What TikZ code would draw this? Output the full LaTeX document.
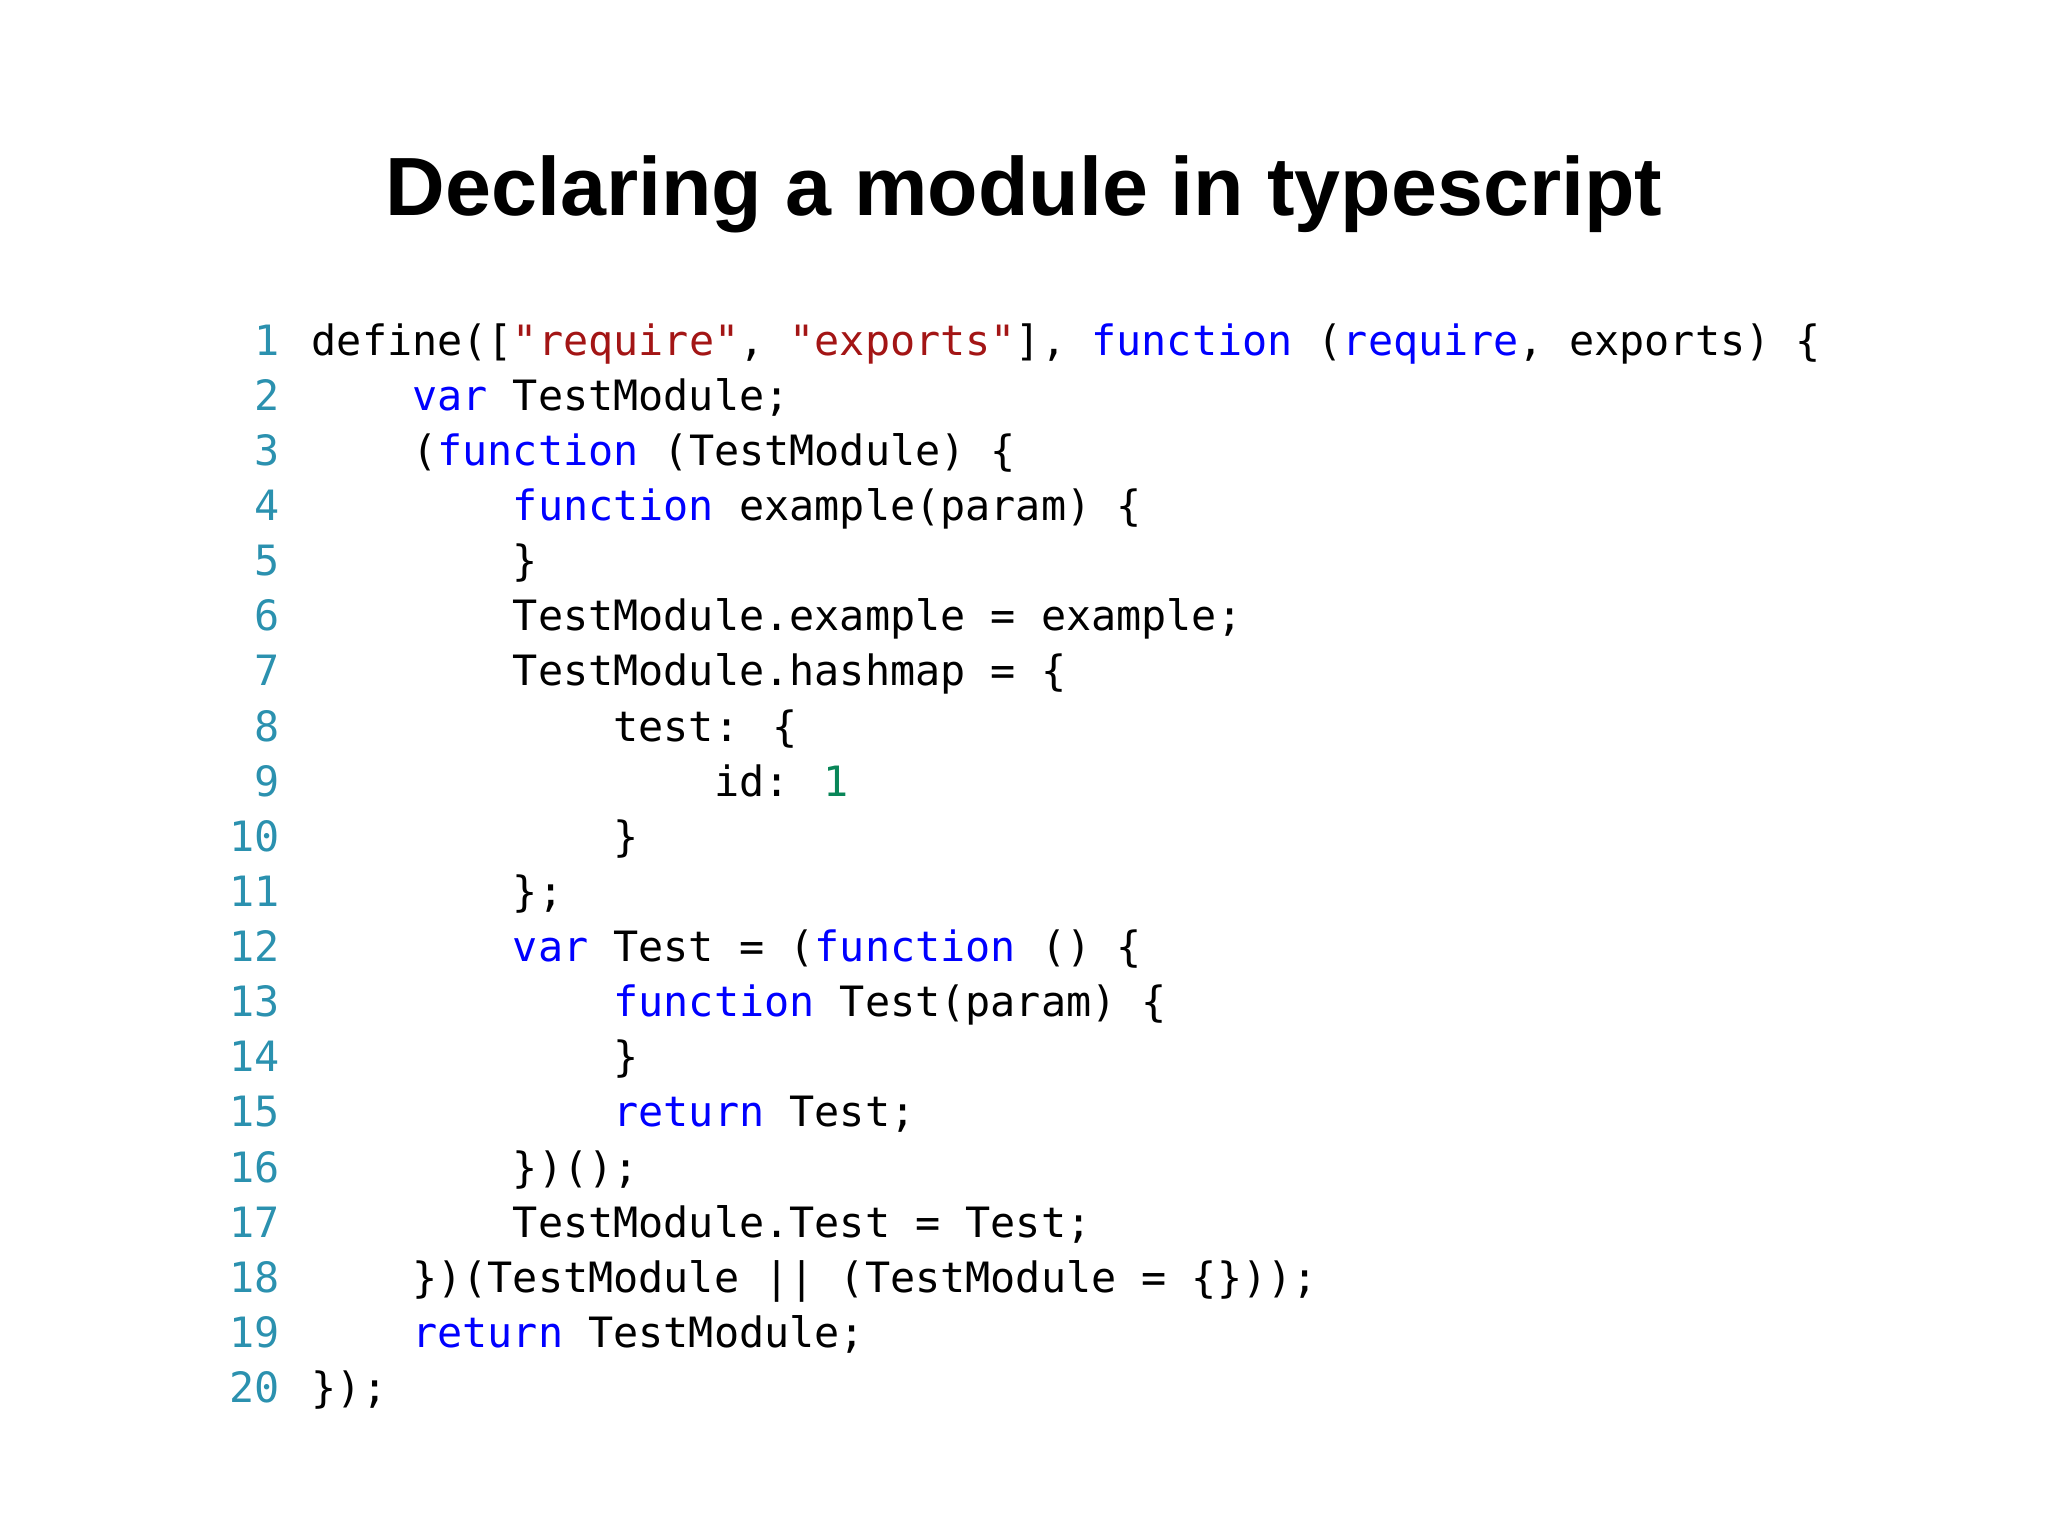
\documentclass[tikz,border=0pt]{standalone}
\usepackage{fontspec}
\setmainfont{Liberation Sans}
\newfontfamily\codefont{DejaVu Sans Mono}
\usetikzlibrary{positioning}
\definecolor{kwblue}{RGB}{0,0,255}
\definecolor{strred}{RGB}{163,21,21}
\definecolor{lnteal}{RGB}{43,145,175}
\definecolor{litgreen}{RGB}{9,134,88}
\newcommand{\kw}[1]{\textcolor{kwblue}{#1}}
\newcommand{\str}[1]{\textcolor{strred}{#1}}
\tikzset{
  codetext/.style={anchor=base west,inner sep=0pt,font=\codefont\fontsize{9.1pt}{10pt}\selectfont},
  linenum/.style={anchor=base east,inner sep=0pt,text=lnteal,font=\codefont\fontsize{9.1pt}{10pt}\selectfont},
  title/.style={font=\bfseries\fontsize{18pt}{22pt}\selectfont}
}
% one line of code: number, indent (characters), text
\newcommand{\codeline}[3]{%
  \node[linenum] (n#1) at (2.15,{9.05-0.422*(#1-1)}) {#1};
  \node[codetext] (c#1) at ({2.38+0.1925*#2},{9.05-0.422*(#1-1)}) {#3};}
\begin{document}
\begin{tikzpicture}
  \useasboundingbox (0,0) rectangle (15.68,11.77);
  \node[title] (heading) at (7.84,10.28) {Declaring a module in typescript};
  \codeline{1}{0}{define([\str{"require"}, \str{"exports"}], \kw{function} (\kw{require}, exports) \{}
  \codeline{2}{4}{\kw{var} TestModule;}
  \codeline{3}{4}{(\kw{function} (TestModule) \{}
  \codeline{4}{8}{\kw{function} example(param) \{}
  \codeline{5}{8}{\}}
  \codeline{6}{8}{TestModule.example = example;}
  \codeline{7}{8}{TestModule.hashmap = \{}
  \codeline{8}{12}{test: \{}
  \codeline{9}{16}{id: \textcolor{litgreen}{1}}
  \codeline{10}{12}{\}}
  \codeline{11}{8}{\};}
  \codeline{12}{8}{\kw{var} Test = (\kw{function} () \{}
  \codeline{13}{12}{\kw{function} Test(param) \{}
  \codeline{14}{12}{\}}
  \codeline{15}{12}{\kw{return} Test;}
  \codeline{16}{8}{\})();}
  \codeline{17}{8}{TestModule.Test = Test;}
  \codeline{18}{4}{\})(TestModule || (TestModule = \{\}));}
  \codeline{19}{4}{\kw{return} TestModule;}
  \codeline{20}{0}{\});}
\end{tikzpicture}
\end{document}
